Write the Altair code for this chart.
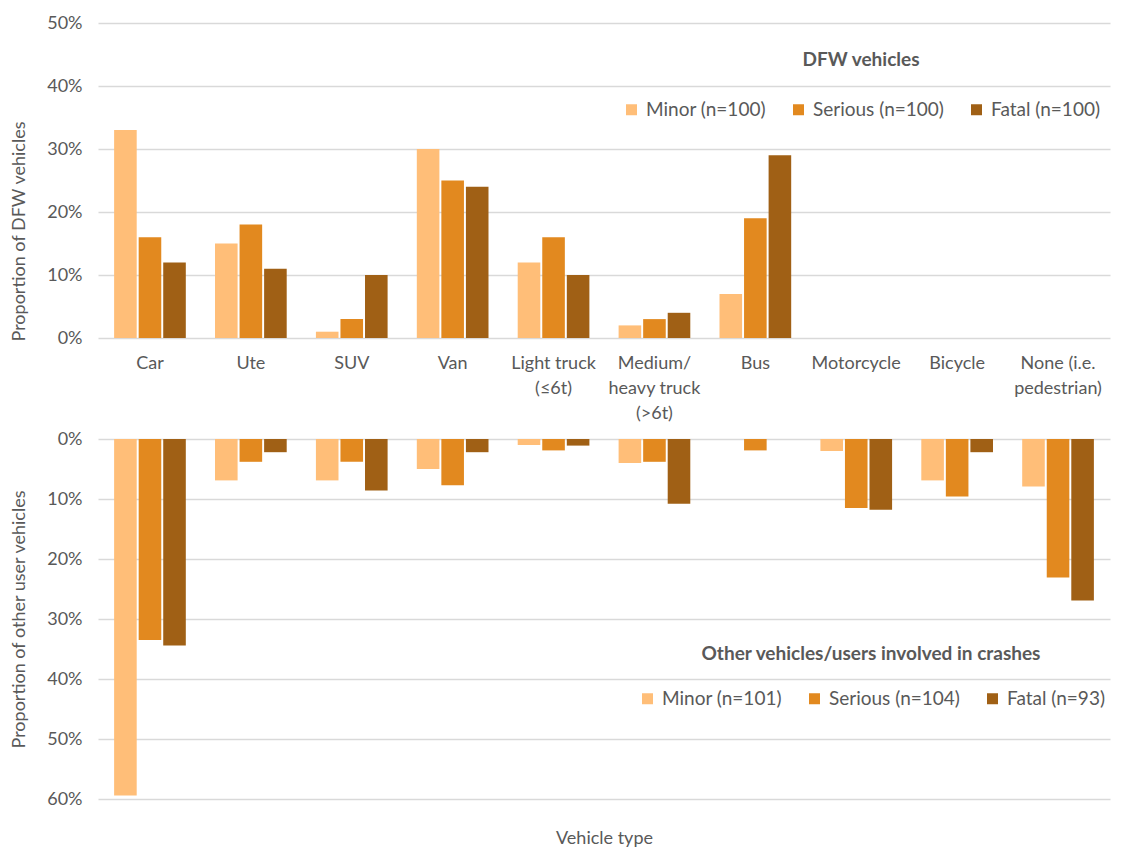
import altair as alt
import pandas as pd

categories = ["Car", "Ute", "SUV", "Van", "Light truck|(≤6t)", "Medium/|heavy truck|(>6t)",
              "Bus", "Motorcycle", "Bicycle", "None (i.e.|pedestrian)"]
severities = ["Minor", "Serious", "Fatal"]
dfw_n = [100, 100, 100]
other_n = [101, 104, 93]

# DFW vehicles (%)
dfw_minor = [33, 15, 1, 30, 12, 2, 7, 0, 0, 0]
dfw_serious = [16, 18, 3, 25, 16, 3, 19, 0, 0, 0]
dfw_fatal = [12, 11, 10, 24, 10, 4, 29, 0, 0, 0]

# Other vehicles/users (%)
other_minor = [59.4, 6.9, 6.9, 5.0, 1.0, 4.0, 0, 2.0, 6.9, 7.9]
other_serious = [33.5, 3.8, 3.8, 7.7, 1.9, 3.8, 1.9, 11.5, 9.6, 23.1]
other_fatal = [34.4, 2.2, 8.6, 2.2, 1.1, 10.8, 0, 11.8, 2.2, 26.9]

colors = ["#FFBE78", "#E2891F", "#A06015"]
TXT = "#595959"
FONT = "Lato"


def build(value_lists, ns):
    rows = []
    labels = []
    for sev, vals, n in zip(severities, value_lists, ns):
        label = f"{sev} (n={n})"
        labels.append(label)
        for c, v in zip(categories, vals):
            rows.append({"category": c, "series": label, "value": v / 100})
    return pd.DataFrame(rows), labels


df_top, top_labels = build([dfw_minor, dfw_serious, dfw_fatal], dfw_n)
df_bot, bot_labels = build([other_minor, other_serious, other_fatal], other_n)

xscale = alt.Scale(paddingInner=0.27, paddingOuter=0.15)
xoff_scale = alt.Scale(paddingInner=0.08, paddingOuter=0.04)


def legend(title, lx, ly, tpad):
    return alt.Legend(
        title=title, orient="none", legendX=lx, legendY=ly, direction="horizontal",
        titleAnchor="middle", titleOrient="top", titleFontSize=19, titleFontWeight="bold",
        titleColor=TXT, titlePadding=tpad, titleLimit=1000, labelFontSize=19, labelColor=TXT,
        labelLimit=1000, symbolType="square", symbolSize=121, symbolStrokeWidth=0,
        columnPadding=23, labelOffset=5,
    )


top = alt.Chart(df_top).mark_bar().encode(
    x=alt.X("category:N", sort=categories, scale=xscale,
            axis=alt.Axis(title=None, labelExpr="split(datum.label, '|')", labelAngle=0,
                          labelPadding=16, labelLineHeight=25, ticks=False, domain=False,
                          labelFontSize=18, labelColor=TXT)),
    xOffset=alt.XOffset("series:N", sort=top_labels, scale=xoff_scale),
    y=alt.Y("value:Q", scale=alt.Scale(domain=[0, 0.5]),
            axis=alt.Axis(format=".0%", values=[0, 0.1, 0.2, 0.3, 0.4, 0.5],
                          title="Proportion of DFW vehicles", titleFontSize=18,
                          titleFontWeight="normal", titleColor=TXT, titlePadding=18,
                          titleY=208,
                          labelFontSize=18, labelColor=TXT, labelPadding=16,
                          ticks=False, domain=False)),
    color=alt.Color("series:N", sort=top_labels,
                    scale=alt.Scale(domain=top_labels, range=colors),
                    legend=legend("DFW vehicles", 524, 28, 30)),
).properties(width=1012, height=315)

bottom = alt.Chart(df_bot).mark_bar().encode(
    x=alt.X("category:N", sort=categories, scale=xscale,
            axis=alt.Axis(title="Vehicle type", labels=False, ticks=False, domain=False,
                          titleFontSize=18, titleFontWeight="normal", titleColor=TXT,
                          titlePadding=30)),
    xOffset=alt.XOffset("series:N", sort=bot_labels, scale=xoff_scale),
    y=alt.Y("value:Q", scale=alt.Scale(domain=[0, 0.6], reverse=True),
            axis=alt.Axis(format=".0%", values=[0, 0.1, 0.2, 0.3, 0.4, 0.5, 0.6],
                          title="Proportion of other user vehicles", titleFontSize=18,
                          titleFontWeight="normal", titleColor=TXT, titlePadding=18,
                          labelFontSize=18, labelColor=TXT, labelPadding=16,
                          ticks=False, domain=False)),
    color=alt.Color("series:N", sort=bot_labels,
                    scale=alt.Scale(domain=bot_labels, range=colors),
                    legend=legend("Other vehicles/users involved in crashes", 540, 206, 25)),
).properties(width=1012, height=360)

chart = alt.vconcat(top, bottom, spacing=101, bounds="flush").resolve_scale(
    color="independent", xOffset="independent"
).properties(
    padding={"left": 10, "top": 14, "right": 5, "bottom": 5}
).configure_view(stroke=None).configure_axis(
    labelFont=FONT, titleFont=FONT, gridColor="#D9D9D9", gridWidth=1.5
).configure_legend(labelFont=FONT, titleFont=FONT)

chart.save("out.html", embed_options={"renderer": "svg", "actions": False})
